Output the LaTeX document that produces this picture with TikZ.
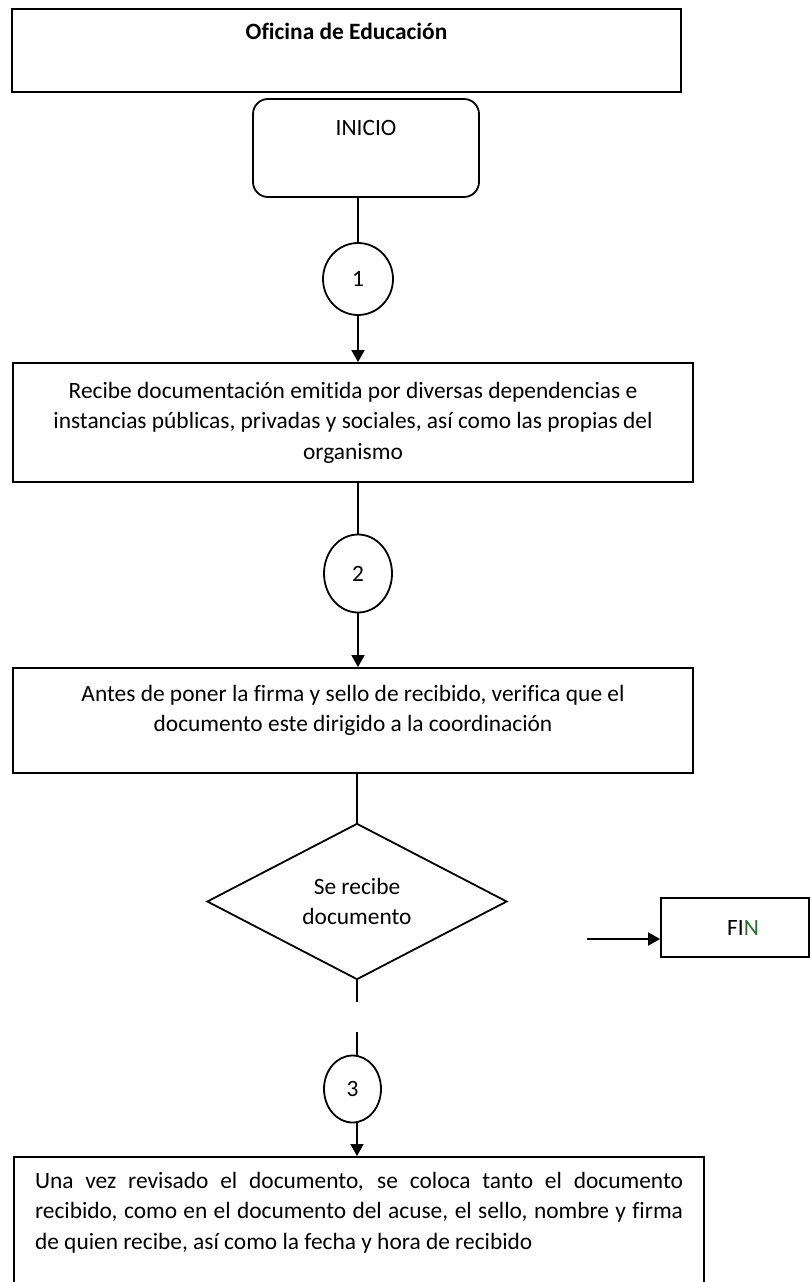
\documentclass[tikz,border=0pt]{standalone}
\usepackage{fontspec}
\setmainfont[Ligatures=NoCommon]{Carlito}
\usetikzlibrary{shapes.geometric,arrows.meta}
\newcommand\topbox[4]{\parbox[c][#1][t]{#2}{\vspace*{#3}#4}}
\definecolor{fingreen}{RGB}{40,110,45}
\begin{document}
\begin{tikzpicture}[x=1pt,y=-1pt,
  every node/.style={font=\fontsize{23.4}{30.5}\selectfont},
  box/.style={draw, rectangle, inner sep=0pt, line width=1.8pt},
  conn/.style={line width=1.8pt},
  arr/.style={conn, -{Triangle[length=12pt,width=13pt]}},
  bub/.style={draw, ellipse, inner sep=0pt, line width=1.8pt}]
\useasboundingbox (0,0) rectangle (811,1282);
\fill[white] (0,0) rectangle (811,1282);
\clip (0,0) rectangle (811,1282);

\node[box] (title) at (346.5,50.5) {\topbox{83pt}{669pt}{14pt}{\centering\bfseries Oficina de Educación}};
\node[box, rounded corners=15pt] (inicio) at (366,148) {\topbox{98pt}{226pt}{21pt}{\centering INICIO}};
\node[bub, minimum width=70pt, minimum height=72pt] (c1) at (358,279) {1};
\node[box, minimum width=680pt, minimum height=119pt, align=center] (b1) at (353,422.5)
  {Recibe documentación emitida por diversas dependencias e\\instancias públicas, privadas y sociales, así como las propias del\\organismo};
\node[bub, minimum width=68pt, minimum height=78pt] (c2) at (358,573.5) {2};
\node[box] (b2) at (353,720.5) {\topbox{105pt}{680pt}{17pt}{\centering Antes de poner la firma y sello de recibido, verifica que el\\documento este dirigido a la coordinación}};
\node[draw, diamond, minimum width=300pt, minimum height=153pt, inner sep=0pt, align=center, line width=1.8pt] (d) at (357,901.5) {Se recibe\\documento};
\node[box, minimum width=148pt, minimum height=59pt] (fin) at (735,927.5) {\hspace*{16pt}FI\textcolor{fingreen}{N}};
\node[bub, minimum width=57pt, minimum height=67pt] (c3) at (352.5,1089) {3};
\node[box, inner xsep=21pt, inner ysep=0pt, anchor=north] (b4) at (359,1156)
  {\topbox{160pt}{648pt}{15pt}{\makebox[\linewidth][s]{Una vez revisado el documento, se coloca tanto el documento}\\
   \makebox[\linewidth][s]{recibido, como en el documento del acuse, el sello, nombre y firma}\\
   de quien recibe, así como la fecha y hora de recibido}};

\coordinate (g1) at (357,1002);
\coordinate (g2) at (357,1032);
\coordinate (fa) at (587,939);
\draw[conn] (c1.north |- inicio.south) -- (c1.north);
\draw[arr] (c1.south) -- (c1.south |- b1.north);
\draw[conn] (c2.north |- b1.south) -- (c2.north);
\draw[arr] (c2.south) -- (c2.south |- b2.north);
\draw[conn] (d.north |- b2.south) -- (d.north);
\draw[conn] (d.south) -- (g1);
\draw[conn] (g2) -- (g2 |- c3.north);
\draw[arr] (g2 |- c3.south) -- (g2 |- b4.north);
\draw[arr] (fa) -- (fa -| fin.west);
\end{tikzpicture}
\end{document}
